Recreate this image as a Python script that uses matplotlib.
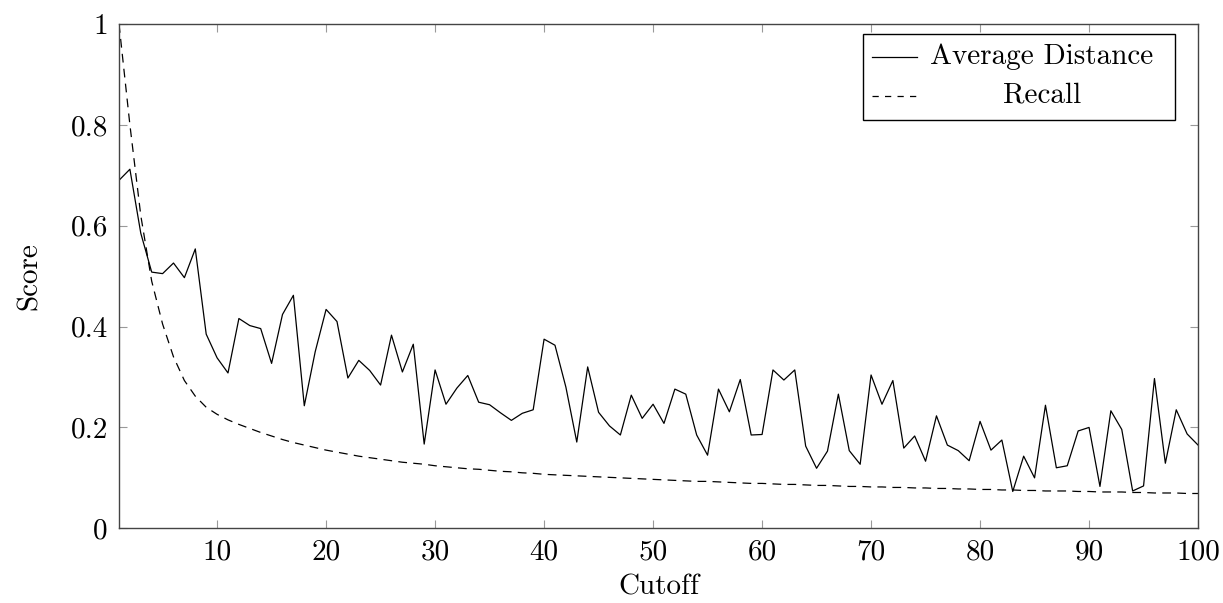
import matplotlib
matplotlib.use("Agg")
import matplotlib.pyplot as plt
from matplotlib.patches import Rectangle
from matplotlib.lines import Line2D

plt.rcParams['font.family'] = 'serif'
plt.rcParams['font.serif'] = ['cmr10', 'DejaVu Serif']
plt.rcParams['mathtext.fontset'] = 'cm'
plt.rcParams['axes.formatter.use_mathtext'] = True

cutoff = list(range(1, 101))

avg_distance = [
    0.690, 0.712, 0.585, 0.508, 0.505, 0.526, 0.497, 0.554, 0.385, 0.338,
    0.308, 0.416, 0.402, 0.396, 0.327, 0.424, 0.462, 0.243, 0.350, 0.434,
    0.410, 0.298, 0.333, 0.313, 0.284, 0.383, 0.310, 0.365, 0.167, 0.314,
    0.246, 0.278, 0.303, 0.250, 0.245, 0.229, 0.214, 0.228, 0.235, 0.375,
    0.363, 0.280, 0.171, 0.320, 0.230, 0.203, 0.185, 0.264, 0.218, 0.246,
    0.208, 0.276, 0.266, 0.185, 0.145, 0.276, 0.231, 0.295, 0.185, 0.186,
    0.314, 0.294, 0.314, 0.163, 0.119, 0.153, 0.266, 0.154, 0.127, 0.304,
    0.246, 0.293, 0.159, 0.183, 0.133, 0.223, 0.165, 0.154, 0.134, 0.212,
    0.155, 0.175, 0.073, 0.143, 0.100, 0.244, 0.120, 0.124, 0.193, 0.200,
    0.083, 0.233, 0.196, 0.074, 0.084, 0.297, 0.129, 0.235, 0.187, 0.165,
]

recall = [
    1.000, 0.800, 0.620, 0.490, 0.405, 0.340, 0.293, 0.262, 0.240, 0.226,
    0.215, 0.206, 0.198, 0.190, 0.183, 0.176, 0.170, 0.165, 0.160, 0.155,
    0.151, 0.147, 0.143, 0.140, 0.137, 0.134, 0.131, 0.129, 0.127, 0.124,
    0.122, 0.120, 0.118, 0.117, 0.115, 0.113, 0.112, 0.110, 0.109, 0.107,
    0.106, 0.105, 0.104, 0.103, 0.102, 0.101, 0.100, 0.099, 0.098, 0.097,
    0.096, 0.095, 0.094, 0.093, 0.093, 0.092, 0.091, 0.090, 0.089, 0.089,
    0.088, 0.087, 0.087, 0.086, 0.085, 0.085, 0.084, 0.083, 0.083, 0.082,
    0.082, 0.081, 0.081, 0.080, 0.080, 0.079, 0.079, 0.078, 0.078, 0.077,
    0.077, 0.076, 0.076, 0.075, 0.075, 0.074, 0.074, 0.074, 0.073, 0.073,
    0.072, 0.072, 0.072, 0.071, 0.071, 0.070, 0.070, 0.070, 0.069, 0.069,
]

x_ticks = [10, 20, 30, 40, 50, 60, 70, 80, 90, 100]
y_ticks = [0, 0.2, 0.4, 0.6, 0.8, 1.0]
y_tick_labels = ["0", "0.2", "0.4", "0.6", "0.8", "1"]
legend_labels = ["Average Distance", "Recall"]

FS = 21
fig = plt.figure(figsize=(12.23, 6.03), dpi=100)
ax = fig.add_axes([0.0973, 0.1239, 0.8823, 0.8363])

ax.plot(cutoff, avg_distance, color='black', lw=0.9)
ax.plot(cutoff, recall, color='black', lw=0.9, dashes=(7, 5))

ax.set_xlim(1, 100)
ax.set_ylim(0, 1)
ax.set_xticks(x_ticks)
ax.set_xticklabels([str(t) for t in x_ticks], fontsize=FS)
ax.set_yticks(y_ticks)
ax.set_yticklabels(y_tick_labels, fontsize=FS)
ax.tick_params(direction='in', length=6, width=0.8, color='#999999',
               top=True, right=True, pad=8)
for s in ax.spines.values():
    s.set_color('#444444')
    s.set_linewidth(1.0)

ax.set_xlabel("Cutoff", fontsize=FS, labelpad=6)
ax.set_ylabel("Score", fontsize=FS, labelpad=20)

# pgfplots-style legend with centered labels
box = Rectangle((0.6895, 0.8097), 0.9787 - 0.6895, 0.980 - 0.8097,
                transform=ax.transAxes, facecolor='white', edgecolor='black',
                lw=1.0, zorder=5)
ax.add_patch(box)
rows = [0.935, 0.858]
styles = [dict(), dict(dashes=(5, 5))]
for yy, lab, st in zip(rows, legend_labels, styles):
    ln = Line2D([0.6977, 0.7394], [yy, yy], transform=ax.transAxes,
                color='black', lw=0.9, zorder=6, **st)
    ax.add_line(ln)
    ax.text(0.8554, yy, lab, transform=ax.transAxes, ha='center', va='center',
            fontsize=FS, zorder=6)

fig.savefig("out.png", dpi=100)
